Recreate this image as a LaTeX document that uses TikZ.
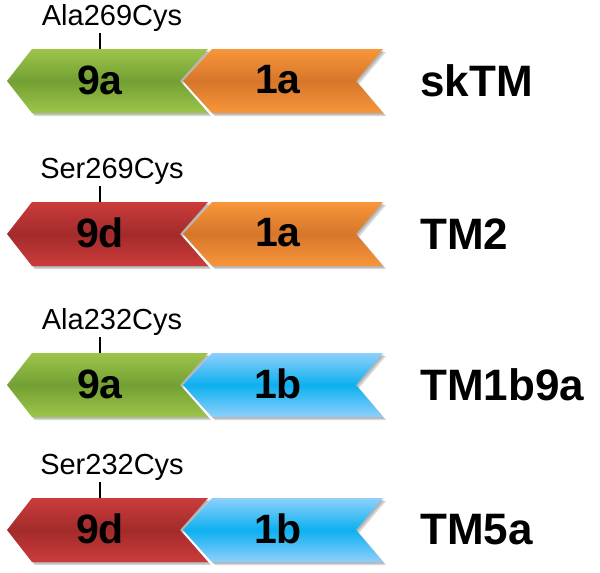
\documentclass[tikz,border=0pt]{standalone}
\usepackage{fontspec}
\setmainfont{Liberation Sans}
\definecolor{gEdge}{HTML}{9DC54B}
\definecolor{gMid}{HTML}{73A033}
\definecolor{rEdge}{HTML}{CB3C3B}
\definecolor{rMid}{HTML}{A32B2B}
\definecolor{oEdge}{HTML}{F8963B}
\definecolor{oMid}{HTML}{D6762A}
\definecolor{bEdge}{HTML}{8ED0FB}
\definecolor{bMid}{HTML}{0DB0F0}
\begin{document}
\begin{tikzpicture}[x=1pt,y=-1pt]
\useasboundingbox (0,0) rectangle (600,573);
\tikzset{
  shad/.style={fill=black,opacity=0.16},
  seglabel/.style={font=\fontsize{41}{41}\selectfont\bfseries,inner sep=0pt,anchor=center},
  mutlabel/.style={font=\fontsize{29}{29}\selectfont,inner sep=0pt,anchor=base},
  namelabel/.style={font=\fontsize{44}{44}\selectfont\bfseries,inner sep=0pt,anchor=west},
  ticklink/.style={line width=1.3pt,black}
}
\foreach \cy/\ca/\cb/\cc/\cd/\ta/\tb/\mutx/\namex [count=\i] in {
  81/gEdge/gMid/oEdge/oMid/9a/1a/Ala269Cys/skTM,
  234/rEdge/rMid/oEdge/oMid/9d/1a/Ser269Cys/TM2,
  385/gEdge/gMid/bEdge/bMid/9a/1b/Ala232Cys/TM1b9a,
  530/rEdge/rMid/bEdge/bMid/9d/1b/Ser232Cys/TM5a}{
  % shadows
  \foreach \s in {1.5,3} {
    \fill[shad,shift={(\s,\s)}] (7,\cy) -- (32,\cy-32) -- (208,\cy-32) -- (180,\cy) -- (208,\cy+32) -- (32,\cy+32) -- cycle;
    \fill[shad,shift={(\s,\s)}] (183,\cy) -- (212,\cy-32) -- (383,\cy-32) -- (356,\cy) -- (383,\cy+32) -- (212,\cy+32) -- cycle;
  }
  % left segment
  \shade[top color=\ca,bottom color=\ca,middle color=\cb]
    (7,\cy) -- (32,\cy-32) -- (208,\cy-32) -- (180,\cy) -- (208,\cy+32) -- (32,\cy+32) -- cycle;
  % right segment
  \shade[top color=\cc,bottom color=\cc,middle color=\cd]
    (183,\cy) -- (212,\cy-32) -- (383,\cy-32) -- (356,\cy) -- (383,\cy+32) -- (212,\cy+32) -- cycle;
  \node[seglabel] (left\i) at (100,\cy-1) {\ta};
  \node[seglabel] (right\i) at (278,\cy-1) {\tb};
  \node[namelabel] (name\i) at (420,\cy) {\namex};
  \node[mutlabel] (mut\i) at (112,\cy-56) {\mutx};
  \coordinate (tickA\i) at (100,\cy-48);
  \coordinate (tickB\i) at (100,\cy-32);
  \draw[ticklink] (tickA\i) -- (tickB\i);
}
\end{tikzpicture}
\end{document}
